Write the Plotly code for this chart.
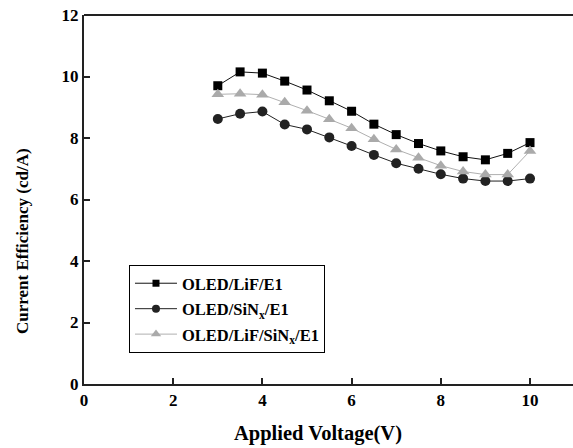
import plotly.graph_objects as go

voltage = [3.0, 3.5, 4.0, 4.5, 5.0, 5.5, 6.0, 6.5, 7.0, 7.5, 8.0, 8.5, 9.0, 9.5, 10.0]
lif_e1 = [9.70, 10.15, 10.11, 9.85, 9.56, 9.21, 8.87, 8.45, 8.11, 7.82, 7.58, 7.39, 7.29, 7.50, 7.85]
sinx_e1 = [8.62, 8.79, 8.86, 8.44, 8.28, 8.02, 7.74, 7.45, 7.18, 7.00, 6.82, 6.68, 6.60, 6.60, 6.68]
lif_sinx_e1 = [9.42, 9.44, 9.41, 9.16, 8.89, 8.61, 8.32, 7.96, 7.63, 7.36, 7.10, 6.91, 6.81, 6.81, 7.58]

series_names = ["OLED/LiF/E1", "OLED/SiN<sub>x</sub>/E1", "OLED/LiF/SiN<sub>x</sub>/E1"]
x_ticks = [0, 2, 4, 6, 8, 10]
y_ticks = [0, 2, 4, 6, 8, 10, 12]

serif = "Liberation Serif"

styles = [
    dict(line="#111111", marker="#000000", symbol="square", size=9, legend_size=7),
    dict(line="#222222", marker="#222222", symbol="circle", size=10, legend_size=8),
    dict(line="#b0b0b0", marker="#aaaaaa", symbol="triangle-up", size=11, legend_size=9),
]

fig = go.Figure()
for name, values, st in zip(series_names, [lif_e1, sinx_e1, lif_sinx_e1], styles):
    fig.add_trace(go.Scatter(
        x=voltage, y=values, mode="lines+markers", name=name, showlegend=False,
        line=dict(color=st["line"], width=1),
        marker=dict(symbol=st["symbol"], size=st["size"], color=st["marker"]),
    ))

# legend entries with smaller symbols
for i, (name, st) in enumerate(zip(series_names, styles)):
    fig.add_trace(go.Scatter(
        x=[None], y=[None], mode="lines+markers", name=name, legendgroup=f"g{i}",
        line=dict(color=st["line"], width=1),
        marker=dict(symbol=st["symbol"], size=st["legend_size"], color=st["marker"]),
    ))

fig.update_layout(
    width=573, height=448,
    margin=dict(l=84, r=0, t=15, b=64),
    paper_bgcolor="white", plot_bgcolor="white",
    font=dict(family=serif, size=15, color="black"),
    legend=dict(
        x=0.092, y=0.3225, xanchor="left", yanchor="top",
        bordercolor="black", borderwidth=1, bgcolor="white",
        font=dict(family=serif, size=16.5, color="black", weight="bold"),
        tracegroupgap=1, itemwidth=42,
    ),
    xaxis=dict(
        range=[0, 10.964], tickvals=x_ticks, ticks="inside", ticklen=6,
        tickwidth=1.5, tickcolor="#222", showline=True, linecolor="#222",
        linewidth=2, showgrid=False, zeroline=False,
        tickfont=dict(family=serif, size=17, weight="bold"),
    ),
    yaxis=dict(
        range=[0, 12], tickvals=y_ticks, ticks="inside", ticklen=6,
        tickwidth=1.5, tickcolor="#222", showline=True, linecolor="#222",
        linewidth=2, showgrid=False, zeroline=False,
        tickfont=dict(family=serif, size=17, weight="bold"),
    ),
    annotations=[
        dict(text="Applied Voltage(V)", xref="paper", yref="paper",
             x=(317.5 - 84) / 489, y=-(433 - 384) / 369,
             xanchor="center", yanchor="middle", showarrow=False,
             font=dict(family=serif, size=20.5, weight="bold")),
        dict(text="Current Efficiency (cd/A)", xref="paper", yref="paper",
             x=-(84 - 22) / 489, y=(384 - 241) / 369, textangle=-90,
             xanchor="center", yanchor="middle", showarrow=False,
             font=dict(family=serif, size=17, weight="bold")),
    ],
)

# top border of the frame
fig.add_shape(type="line", xref="paper", yref="paper", x0=0, x1=1, y0=1, y1=1,
              line=dict(color="#222", width=2))

fig.write_html("out.html")
